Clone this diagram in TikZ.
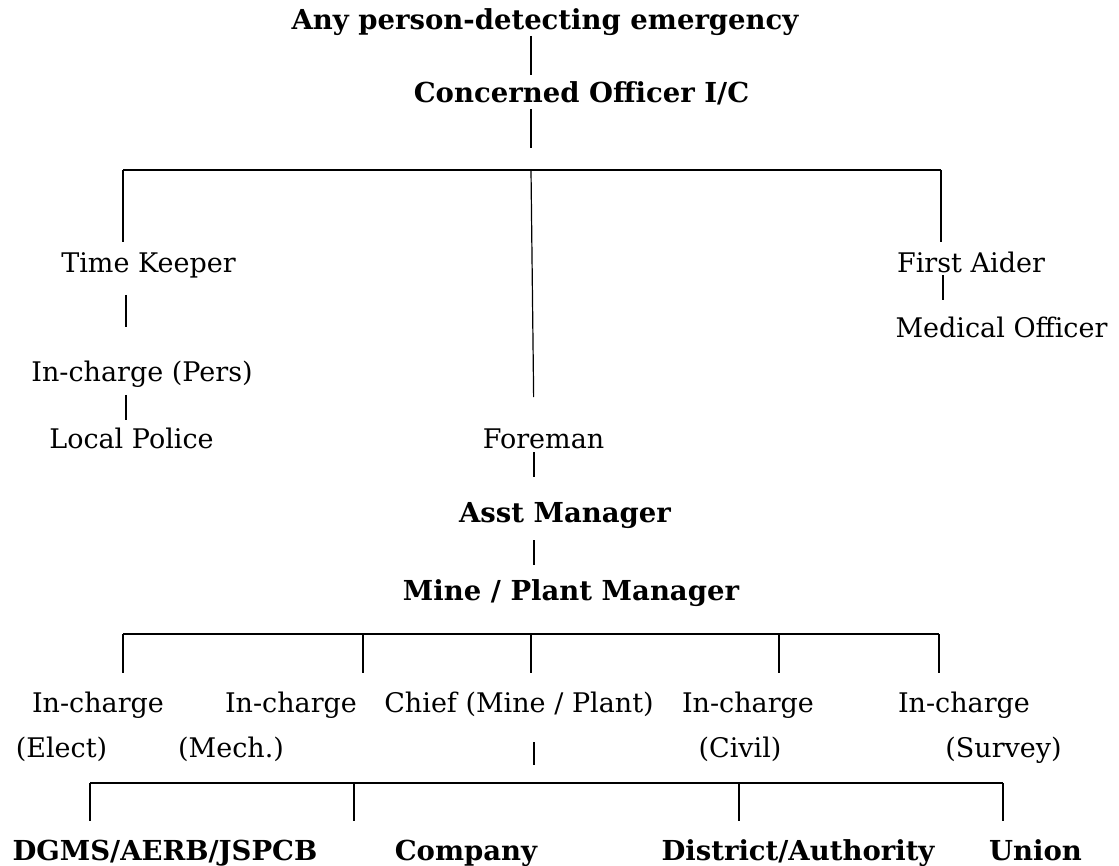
\documentclass[tikz,border=0pt]{standalone}
\usepackage{fontspec}
\setmainfont{DejaVu Serif}
\begin{document}
\begin{tikzpicture}[x=1pt,y=-1pt,
  txt/.style={inner sep=0pt,outer sep=0pt,anchor=base,text height=20pt,text depth=6pt,font=\fontsize{27}{32}\selectfont},
  btxt/.style={txt,font=\fontsize{27.5}{32}\selectfont\bfseries},
  ln/.style={line width=1.2pt},
  bar/.style={line width=1.6pt}]
\useasboundingbox (0,0) rectangle (1119,866);
% nodes
\node[btxt] (any) at (545,30) {Any person-detecting emergency};
\node[btxt] (conc) at (581.5,103) {Concerned Officer I/C};
\node[txt] (tk) at (148.5,273) {Time Keeper};
\node[txt] (icp) at (142,382) {In-charge (Pers)};
\node[txt] (lp) at (131.5,448) {Local Police};
\node[txt] (fa) at (971,273) {First Aider};
\node[txt] (mo) at (1001.5,338) {Medical Officer};
\node[txt] (fore) at (543.5,448) {Foreman};
\node[btxt] (asst) at (565,522) {Asst Manager};
\node[btxt] (mpm) at (571,600) {Mine / Plant Manager};
\node[txt] (ie) at (98,712) {In-charge};
\node[txt] (iee) at (61.5,757) {(Elect)};
\node[txt] (im) at (291,712) {In-charge};
\node[txt] (imm) at (231,757) {(Mech.)};
\node[txt] (chief) at (519,712) {Chief (Mine / Plant)};
\node[txt] (ic) at (748,712) {In-charge};
\node[txt] (icc) at (740,757) {(Civil)};
\node[txt] (is) at (964,712) {In-charge};
\node[txt] (iss) at (1003.5,757) {(Survey)};
\node[btxt] (dg) at (165,860) {DGMS/AERB/JSPCB};
\node[btxt] (co) at (466,860) {Company};
\node[btxt] (da) at (798,860) {District/Authority};
\node[btxt] (un) at (1035.5,860) {Union};
% coordinates
\coordinate (b1) at (531,170);
\coordinate (b1l) at (123,170);
\coordinate (b1r) at (941,170);
\coordinate (fx) at (534,0);
\coordinate (tkx) at (126,0);
\coordinate (fax) at (943,0);
\coordinate (b2l) at (123,634);
\coordinate (b2a) at (363,634);
\coordinate (b2m) at (531,634);
\coordinate (b2b) at (779,634);
\coordinate (b2r) at (939,634);
\coordinate (b3l) at (90,783);
\coordinate (b3a) at (354,783);
\coordinate (b3m) at (534,783);
\coordinate (b3b) at (739,783);
\coordinate (b3r) at (1003,783);
% connectors
\draw[ln,shorten >=8pt] (any.south -| b1) -- (conc.north -| b1);
\draw[ln,shorten >=22pt] (conc.south -| b1) -- (b1);
\draw[bar] (b1l) -- (b1r);
\draw[ln,shorten >=11pt] (b1l) -- (tk.north -| b1l);
\draw[ln,shorten >=11pt] (b1r) -- (fa.north -| b1r);
\draw[ln,shorten >=31pt] (b1) -- (fore.north -| fx);
\draw[ln,shorten <=16pt,shorten >=35pt] (tk.south -| tkx) -- (icp.north -| tkx);
\draw[ln,shorten <=7pt,shorten >=8pt] (icp.south -| tkx) -- (lp.north -| tkx);
\draw[ln,shorten <=-4pt,shorten >=18pt] (fa.south -| fax) -- (mo.north -| fax);
\draw[ln,shorten <=-2pt,shorten >=25pt] (fore.south -| fx) -- (asst.north -| fx);
\draw[ln,shorten <=12pt,shorten >=15pt] (asst.south -| fx) -- (mpm.north -| fx);
\draw[bar] (b2l) -- (b2r);
\draw[ln,shorten >=19pt] (b2l) -- (ie.north -| b2l);
\draw[ln,shorten >=19pt] (b2a) -- (im.north -| b2a);
\draw[ln,shorten >=19pt] (b2m) -- (chief.north -| b2m);
\draw[ln,shorten >=19pt] (b2b) -- (ic.north -| b2b);
\draw[ln,shorten >=19pt] (b2r) -- (is.north -| b2r);
\draw[ln,shorten <=24pt,shorten >=18pt] (chief.south -| b3m) -- (b3m);
\draw[bar] (b3l) -- (b3r);
\draw[ln,shorten >=19pt] (b3l) -- (dg.north -| b3l);
\draw[ln,shorten >=19pt] (b3a) -- (co.north -| b3a);
\draw[ln,shorten >=19pt] (b3b) -- (da.north -| b3b);
\draw[ln,shorten >=19pt] (b3r) -- (un.north -| b3r);
\end{tikzpicture}
\end{document}
